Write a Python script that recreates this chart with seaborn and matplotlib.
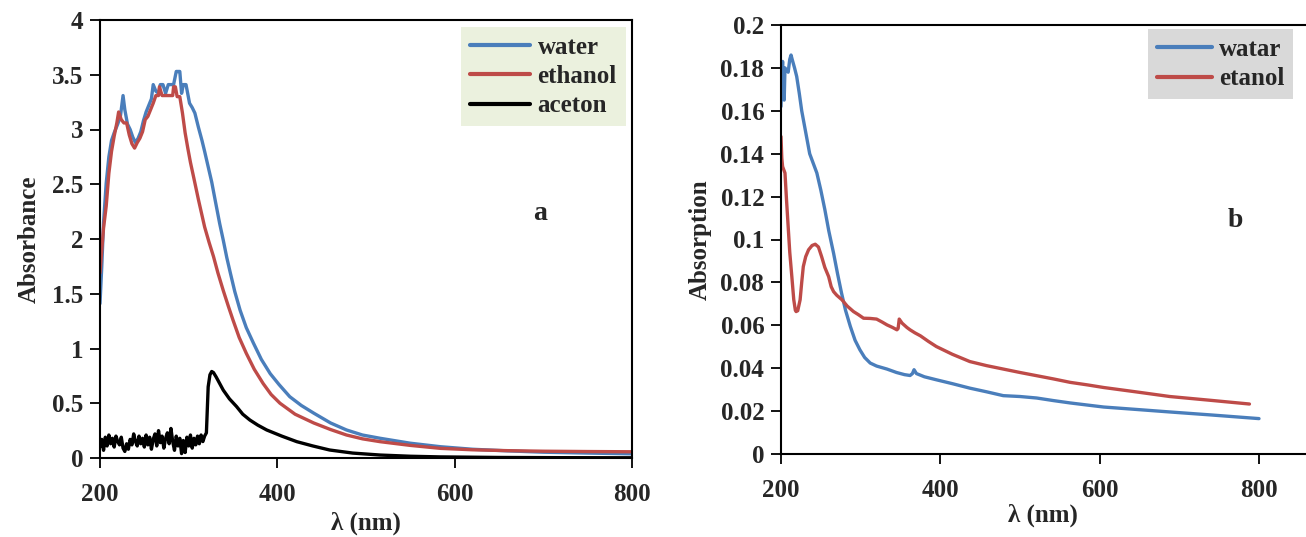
import numpy as np
import pandas as pd
import matplotlib
matplotlib.use("Agg")
import matplotlib.pyplot as plt
import seaborn as sns

# ---------------- Panel a data ----------------
water_x = [200, 202, 204, 207, 210, 213, 216, 220, 223, 226, 228, 231, 234, 237, 240, 243, 246, 249, 252, 255,
           258, 260, 263, 266, 268, 271, 274, 277, 280, 283, 286, 288, 290, 292, 294, 297, 301, 304, 307, 311,
           315, 318, 322, 326, 330, 335, 339, 343, 347, 352, 358, 365, 373, 382, 392, 402, 414, 427, 441, 460,
           478, 496, 516, 550, 584, 620, 660, 700, 750, 800]
water_y = [1.41, 1.75, 2.15, 2.51, 2.75, 2.90, 2.97, 3.05, 3.12, 3.31, 3.18, 3.05, 3.00, 2.93, 2.88, 2.92, 2.98, 3.08, 3.16, 3.22,
           3.28, 3.41, 3.35, 3.33, 3.41, 3.41, 3.33, 3.41, 3.41, 3.41, 3.53, 3.53, 3.53, 3.33, 3.41, 3.41, 3.24, 3.20, 3.15, 3.02,
           2.90, 2.80, 2.66, 2.52, 2.35, 2.14, 1.99, 1.83, 1.69, 1.52, 1.35, 1.19, 1.05, 0.90, 0.77, 0.67, 0.56, 0.48, 0.41, 0.32,
           0.256, 0.21, 0.18, 0.135, 0.103, 0.080, 0.065, 0.053, 0.045, 0.038]

ethanol_x = [200, 202, 204, 207, 210, 213, 216, 219, 221, 224, 227, 230, 233, 236, 239, 242, 245, 248, 251, 254,
             257, 260, 263, 266, 267, 270, 273, 276, 279, 282, 283, 285, 287, 290, 293, 296, 299, 302, 306, 311,
             318, 323, 328, 333, 339, 345, 350, 357, 365, 374, 384, 393, 403, 420, 441, 460, 478, 496, 516, 550,
             584, 620, 660, 700, 750, 800]
ethanol_y = [1.69, 1.90, 2.10, 2.30, 2.60, 2.80, 2.94, 3.06, 3.16, 3.09, 3.06, 3.06, 2.95, 2.87, 2.83, 2.88, 2.92, 2.98, 3.09, 3.12,
             3.18, 3.24, 3.31, 3.31, 3.39, 3.31, 3.31, 3.31, 3.31, 3.31, 3.39, 3.39, 3.30, 3.30, 3.15, 2.97, 2.83, 2.70, 2.55, 2.36,
             2.11, 1.97, 1.84, 1.69, 1.53, 1.38, 1.26, 1.10, 0.956, 0.81, 0.68, 0.58, 0.50, 0.40, 0.32, 0.26, 0.21, 0.175, 0.149, 0.115,
             0.088, 0.075, 0.067, 0.062, 0.059, 0.057]

aceton_x = [200, 202, 204, 206, 208, 210, 212, 214, 216, 218, 220, 222, 224, 226, 228, 230, 232, 234, 236, 238,
            240, 242, 244, 246, 248, 250, 252, 254, 256, 258, 260, 262, 264, 266, 268, 270, 272, 274, 276, 278,
            280, 282, 284, 286, 288, 290, 292, 294, 296, 298, 300, 302, 304, 306, 308, 310, 312, 314, 316, 318,
            320, 322, 324, 326, 328, 331, 335, 339, 346, 354, 361, 369, 378, 388, 405, 422, 440, 459, 485, 516,
            550, 584, 650, 720, 800]
aceton_y = [0.10, 0.17, 0.07, 0.19, 0.11, 0.21, 0.13, 0.18, 0.10, 0.20, 0.15, 0.12, 0.19, 0.09, 0.06, 0.13, 0.08, 0.17, 0.12, 0.22,
            0.15, 0.11, 0.20, 0.13, 0.18, 0.10, 0.21, 0.12, 0.19, 0.08, 0.17, 0.22, 0.11, 0.25, 0.14, 0.20, 0.09, 0.18, 0.23, 0.13,
            0.27, 0.15, 0.07, 0.20, 0.11, 0.18, 0.04, 0.16, 0.05, 0.19, 0.11, 0.21, 0.09, 0.18, 0.12, 0.20, 0.13, 0.21, 0.15, 0.20,
            0.23, 0.65, 0.76, 0.79, 0.78, 0.74, 0.68, 0.62, 0.54, 0.47, 0.40, 0.347, 0.30, 0.256, 0.20, 0.149, 0.11, 0.073, 0.045, 0.027,
            0.016, 0.010, 0.005, 0.003, 0.002]

# ---------------- Panel b data ----------------
watar_x = [200, 201, 202, 203, 204, 205, 207, 209, 211, 212.6, 214, 217, 219.7, 223, 226, 231, 236, 241, 245, 250,
           255, 260, 266, 271, 276, 281, 287, 293, 299, 305, 312, 320, 333, 345, 355, 362, 365, 367, 370, 380,
           395, 415, 437, 458, 479, 500, 521, 542, 563, 585, 605, 645, 688, 740, 800]
watar_y = [0.162, 0.175, 0.183, 0.170, 0.165, 0.180, 0.179, 0.178, 0.184, 0.186, 0.184, 0.180, 0.176, 0.168, 0.160, 0.150, 0.140, 0.135, 0.131, 0.123,
           0.114, 0.104, 0.0936, 0.084, 0.075, 0.067, 0.0595, 0.053, 0.0486, 0.045, 0.0424, 0.041, 0.0396, 0.038, 0.037, 0.0366, 0.0375, 0.0393, 0.0375, 0.036,
           0.0346, 0.0328, 0.0307, 0.029, 0.0272, 0.0268, 0.0261, 0.0249, 0.0238, 0.0228, 0.0219, 0.0208, 0.0196, 0.0182, 0.0165]

etanol_x = [200, 201, 202, 204, 205, 207, 209, 211, 213.6, 216, 218, 219, 221, 224, 226, 228, 231, 234.6, 239, 243,
            247, 251, 255, 259.8, 263, 266, 270, 276.5, 283, 291, 297, 303.6, 312, 320, 327, 333, 340, 345.5, 347, 348.4,
            352, 358, 362, 368, 375, 385, 395, 415, 437, 458, 479, 500, 521, 542, 563, 585, 605, 645, 688, 740, 788]
etanol_y = [0.148, 0.138, 0.134, 0.132, 0.131, 0.118, 0.106, 0.094, 0.0827, 0.072, 0.067, 0.0664, 0.0668, 0.0719, 0.080, 0.0874, 0.092, 0.0952, 0.0972, 0.0978,
            0.0965, 0.092, 0.087, 0.0827, 0.078, 0.0757, 0.074, 0.0719, 0.069, 0.0664, 0.065, 0.0633, 0.0632, 0.0629, 0.0615, 0.0602, 0.059, 0.0579, 0.0585, 0.0629,
            0.061, 0.059, 0.0579, 0.0565, 0.0551, 0.0525, 0.0501, 0.0465, 0.0431, 0.0412, 0.0396, 0.038, 0.0365, 0.035, 0.0334, 0.0322, 0.031, 0.029, 0.0268, 0.025, 0.0233]

BLUE = "#4A7EBB"
RED = "#BE4B48"
BLACK = "#000000"

sns.set_theme(style="white")
plt.rcParams["font.family"] = ["Liberation Serif", "DejaVu Serif"]
plt.rcParams["font.weight"] = "bold"
FS = 18

df_a = pd.concat([
    pd.DataFrame({"x": water_x, "y": water_y, "s": "water"}),
    pd.DataFrame({"x": ethanol_x, "y": ethanol_y, "s": "ethanol"}),
    pd.DataFrame({"x": aceton_x, "y": aceton_y, "s": "aceton"}),
])
df_b = pd.concat([
    pd.DataFrame({"x": watar_x, "y": watar_y, "s": "watar"}),
    pd.DataFrame({"x": etanol_x, "y": etanol_y, "s": "etanol"}),
])

fig = plt.figure(figsize=(13.06, 5.37), dpi=100)
W, H = 1306, 537
axa = fig.add_axes([100 / W, 1 - 458 / H, (632 - 100) / W, (458 - 20) / H])
axb = fig.add_axes([781 / W, 1 - 454 / H, (1305 - 781) / W, (454 - 25) / H])

sns.lineplot(data=df_a, x="x", y="y", hue="s", palette={"water": BLUE, "ethanol": RED, "aceton": BLACK},
             sort=False, estimator=None, linewidth=2.4, ax=axa, legend=True)
sns.lineplot(data=df_b, x="x", y="y", hue="s", palette={"watar": BLUE, "etanol": RED},
             sort=False, estimator=None, linewidth=2.4, ax=axb, legend=True)

axa.set_xlim(200, 800)
axa.set_ylim(0, 4)
axa.set_xticks([200, 400, 600, 800])
axa.set_yticks([0, 0.5, 1, 1.5, 2, 2.5, 3, 3.5, 4])
axa.set_yticklabels(["0", "0.5", "1", "1.5", "2", "2.5", "3", "3.5", "4"])

x_per_px = 600 / (1259 - 781)
axb.set_xlim(200, 200 + (1305 - 781) * x_per_px)
axb.set_ylim(0, 0.2)
axb.set_xticks([200, 400, 600, 800])
axb.set_yticks([0, 0.02, 0.04, 0.06, 0.08, 0.1, 0.12, 0.14, 0.16, 0.18, 0.2])
axb.set_yticklabels(["0", "0.02", "0.04", "0.06", "0.08", "0.1", "0.12", "0.14", "0.16", "0.18", "0.2"])

for ax in (axa, axb):
    ax.tick_params(axis="both", direction="out", length=7, width=1.3, color="black",
                   labelsize=FS, bottom=True, left=True)
    ax.tick_params(axis="x", pad=11)
    ax.tick_params(axis="y", pad=5)
    for lab in ax.get_xticklabels() + ax.get_yticklabels():
        lab.set_fontweight("bold")
    for sp in ax.spines.values():
        sp.set_color("black")
        sp.set_linewidth(1.5)
axb.spines["right"].set_visible(False)

axa.set_xlabel("λ (nm)", fontsize=FS, fontweight="bold", labelpad=4)
axb.set_xlabel("λ (nm)", fontsize=FS, fontweight="bold", labelpad=1)
axa.set_ylabel("Absorbance", fontsize=FS, fontweight="bold", labelpad=8)
axb.set_ylabel("Absorption", fontsize=FS, fontweight="bold", labelpad=6)

leg_a = axa.legend(loc="upper right", bbox_to_anchor=(0.988, 0.984), frameon=True,
                   prop={"weight": "bold", "size": FS}, handlelength=2.4, handletextpad=0.3,
                   labelspacing=0.25, borderpad=0.35, fancybox=False, borderaxespad=0)
leg_a.get_frame().set_facecolor("#EBF1DE")
leg_a.get_frame().set_edgecolor("none")
leg_a.get_frame().set_alpha(1)
for h in leg_a.get_lines():
    h.set_linewidth(3)

leg_b = axb.legend(loc="upper right", bbox_to_anchor=(0.978, 0.99), frameon=True,
                   prop={"weight": "bold", "size": FS}, handlelength=2.2, handletextpad=0.3,
                   labelspacing=0.25, borderpad=0.35, fancybox=False, borderaxespad=0)
leg_b.get_frame().set_facecolor("#D9D9D9")
leg_b.get_frame().set_edgecolor("none")
leg_b.get_frame().set_alpha(1)
for h in leg_b.get_lines():
    h.set_linewidth(3)

axa.text(200 + (540 - 100) * 600 / 532, (458 - 213) / 109.5, "a", fontsize=20, fontweight="bold",
         ha="center", va="center")
axb.text(200 + (1235 - 781) * x_per_px, 0.109, "b", fontsize=20, fontweight="bold", ha="center", va="center")

fig.savefig("out.png", dpi=100)
